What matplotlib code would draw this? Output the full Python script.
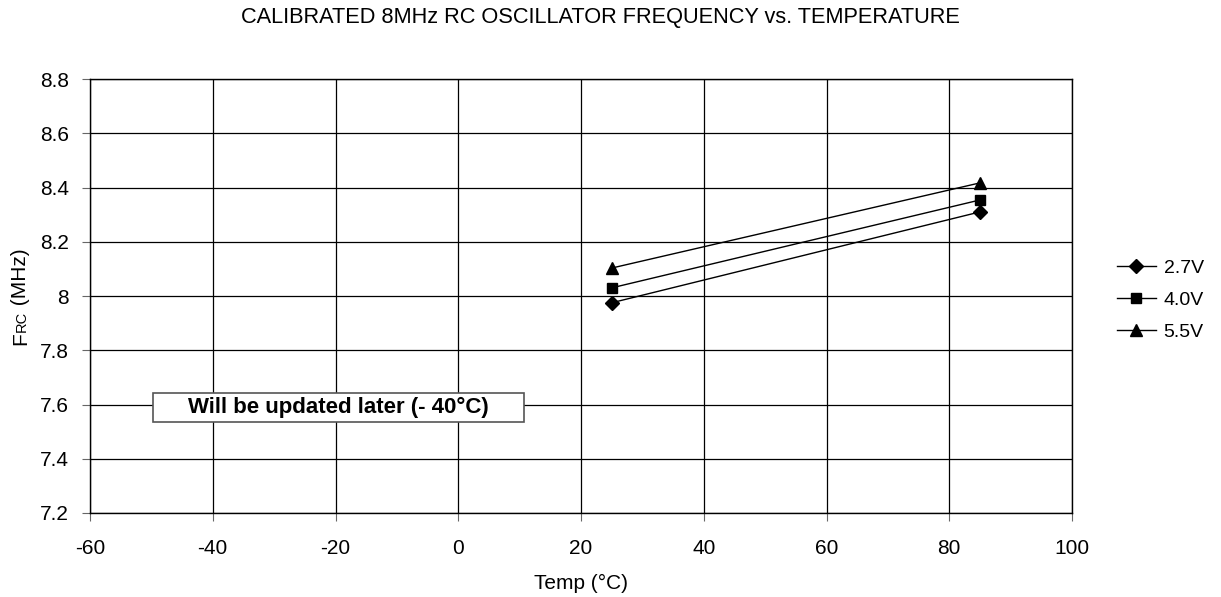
import matplotlib
matplotlib.use('Agg')
import matplotlib.pyplot as plt
from matplotlib.ticker import FuncFormatter
from matplotlib.patches import Rectangle

plt.rcParams['font.family'] = ['Liberation Sans', 'DejaVu Sans']
plt.rcParams['axes.unicode_minus'] = False

# data
temp = [25, 85]
f_27 = [7.975, 8.31]
f_40 = [8.03, 8.354]
f_55 = [8.103, 8.417]
labels = ['2.7V', '4.0V', '5.5V']

W, H = 1221, 597
fig = plt.figure(figsize=(W / 100, H / 100), dpi=100)
# axes box in pixels: left 90, right 1072, top 79, bottom 513
ax = fig.add_axes([90 / W, 1 - 513 / H, (1072 - 90) / W, (513 - 79) / H])

ax.plot(temp, f_27, '-', color='black', lw=1, marker='D', ms=7, label=labels[0])
ax.plot(temp, f_40, '-', color='black', lw=1, marker='s', ms=7, label=labels[1])
ax.plot(temp, f_55, '-', color='black', lw=1, marker='^', ms=9, label=labels[2])

ax.set_xlim(-60, 100)
ax.set_ylim(7.2, 8.8)
ax.set_xticks(range(-60, 101, 20))
ax.set_yticks([7.2, 7.4, 7.6, 7.8, 8.0, 8.2, 8.4, 8.6, 8.8])
ax.yaxis.set_major_formatter(FuncFormatter(lambda v, p: f'{v:g}'))
ax.tick_params(labelsize=15, length=6, width=0.8, color='#666666')
ax.tick_params(axis='x', pad=13)
ax.tick_params(axis='y', pad=9)
ax.grid(color='black', lw=0.9)
for s in ax.spines.values():
    s.set_color('black')
    s.set_linewidth(1)

ax.set_xlabel('Temp (°C)', fontsize=15, labelpad=11)
fig.text(600 / W, 1 - 17 / H, 'CALIBRATED 8MHz RC OSCILLATOR FREQUENCY vs. TEMPERATURE',
         fontsize=15.7, ha='center', va='center')

# y label: F + small-caps RC + (MHz), built from pieces
fig.canvas.draw()
rend = fig.canvas.get_renderer()
ylab_x = 26 / W
ylab_y = 345
pieces = [('F', 15), ('RC', 10.5), (' (MHz)', 15)]
for txt, fs in pieces:
    t = fig.text(ylab_x, 1 - ylab_y / H, txt, fontsize=fs, rotation=90,
                 rotation_mode='anchor', ha='left', va='baseline')
    ylab_y -= t.get_window_extent(rend).height

# note box
ax.add_patch(Rectangle((-49.7, 7.534), 60.4, 0.107, fc='white', ec='#555555',
                       lw=1.2, zorder=3))
ax.text(-19.5, 7.588, 'Will be updated later (- 40°C)', fontsize=16,
        fontweight='bold', ha='center', va='center', zorder=4)

leg = fig.legend(loc='center left', bbox_to_anchor=(1117 / W, 1 - 300 / H),
                 frameon=False, fontsize=14, handlelength=2.0,
                 handletextpad=0.4, labelspacing=0.75, borderpad=0,
                 borderaxespad=0)

fig.savefig('out.png', dpi=100)
